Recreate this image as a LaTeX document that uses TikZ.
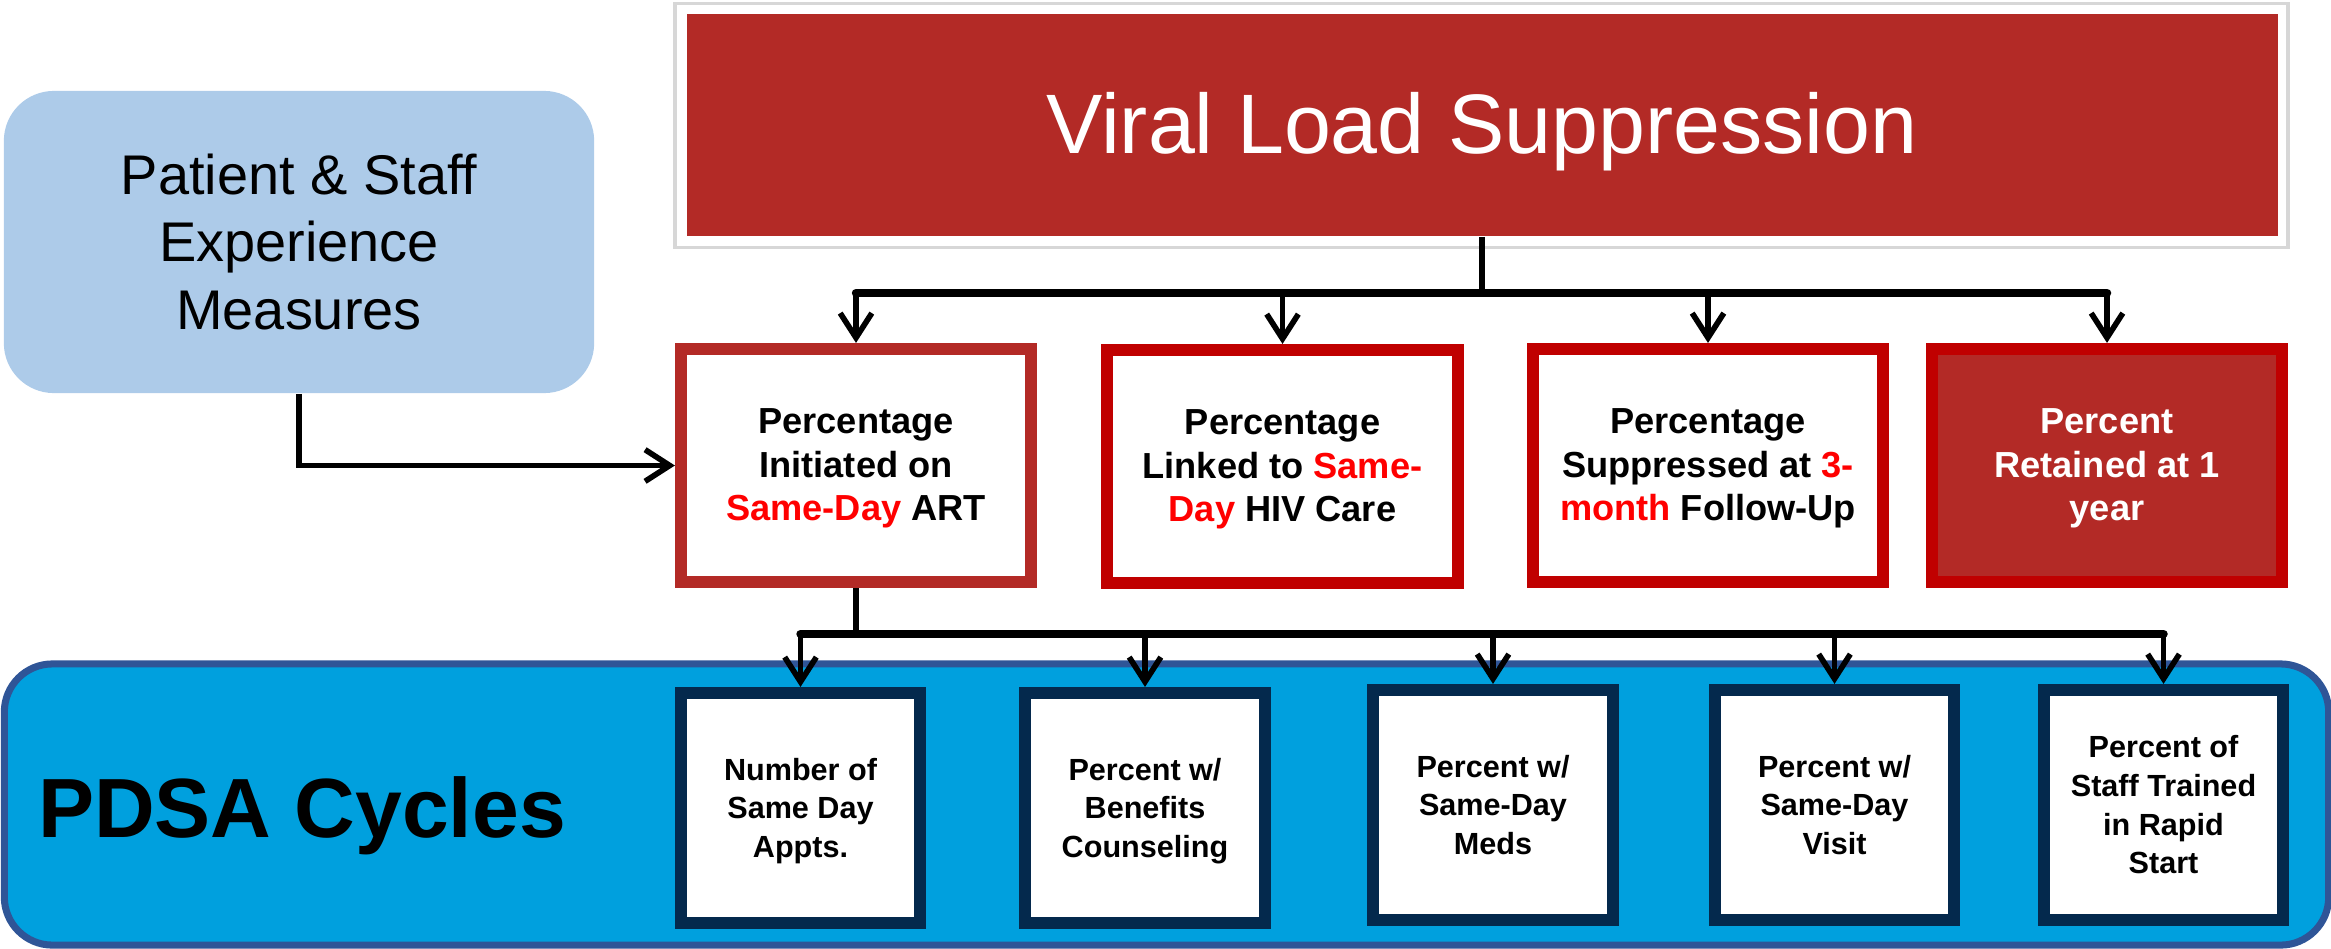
\documentclass[tikz,border=0pt]{standalone}
\usepackage{fontspec}
\setmainfont{Liberation Sans}
\usetikzlibrary{arrows.meta}

\definecolor{vlred}{RGB}{179,42,38}
\definecolor{boxred}{RGB}{192,0,0}
\definecolor{navy}{RGB}{4,41,77}
\definecolor{pdsablue}{RGB}{0,160,222}
\definecolor{pdsaedge}{RGB}{47,85,151}
\definecolor{paleblue}{RGB}{173,203,233}
\definecolor{hot}{RGB}{255,0,0}
\definecolor{framegray}{RGB}{215,215,215}

% fixed first-line height and last-line depth keep the lines of every box at the same place
\newcommand{\linehi}[1]{\rule{0pt}{#1}}
\newcommand{\linelo}[1]{\rule[-#1]{0pt}{#1}}
\newcommand{\mhi}{\linehi{9.1pt}}
\newcommand{\mlo}{\linelo{2.56pt}}
\newcommand{\cyhi}{\linehi{8.1pt}}
\newcommand{\cylo}{\linelo{2pt}}

\tikzset{
  measurebox/.style={draw=boxred, line width=0.12cm, fill=white,
    minimum width=3.50cm, minimum height=2.33cm, align=center, inner sep=0pt,
    font=\bfseries\fontsize{10.3}{12.5}\selectfont},
  pdsabox/.style={draw=navy, line width=0.12cm, fill=white,
    minimum width=2.39cm, minimum height=2.30cm, align=center, inner sep=0pt,
    font=\bfseries\fontsize{8.7}{11}\selectfont},
  shaft/.style={line width=1.6pt, black},
  bar/.style={line width=2.4pt, black, line cap=round},
  feed/.style={shaft, -{Straight Barb[length=7pt,width=9pt]}},
}

\begin{document}
\begin{tikzpicture}[x=0.01cm,y=-0.01cm]
\useasboundingbox (0,0) rectangle (2331,948);

% outcome measure
\node[draw=framegray, line width=1pt, fill=white, minimum width=16.12cm,
      minimum height=2.44cm, inner sep=0pt] (vlframe) at (1481.5,125.5) {};
\node[fill=vlred, text=white, minimum width=15.90cm, minimum height=2.22cm,
      font=\fontsize{24}{28}\selectfont, text height=17.0pt, text depth=0.6pt]
      (vl) at (1482,125) {Viral Load Suppression};

% balancing measure
\node[fill=paleblue, rounded corners=0.5cm, minimum width=5.90cm,
      minimum height=3.02cm, align=center, inner sep=0pt,
      font=\fontsize{15.9}{19.3}\selectfont]
      (pse) at (299,242) {\linehi{14.7pt}Patient \& Staff\\Experience\\Measures\linelo{3.4pt}};

% process measures
\node[measurebox, draw=vlred] (m1) at (856,465.5)
  {\mhi Percentage\\Initiated on\\\textcolor{hot}{Same-Day} ART\mlo};
\node[measurebox] (m2) at (1282.5,466.5)
  {\mhi Percentage\\Linked to \textcolor{hot}{Same-}\\\textcolor{hot}{Day} HIV Care\mlo};
\node[measurebox] (m3) at (1708,465.5)
  {\mhi Percentage\\Suppressed at \textcolor{hot}{3-}\\\textcolor{hot}{month} Follow-Up\mlo};
\node[measurebox, fill=vlred, text=white] (m4) at (2107,465.5)
  {\mhi Percent\\Retained at 1\\year\mlo};

% PDSA band
\node[fill=pdsablue, draw=pdsaedge, line width=2pt, rounded corners=0.48cm,
      minimum width=23.23cm, minimum height=2.81cm, inner sep=0pt]
      (band) at (1166.5,804.5) {};
\node[font=\bfseries\fontsize{23.9}{28}\selectfont, text height=17.1pt,
      text depth=0pt, inner sep=0pt] (bandlabel) at (302,807) {PDSA Cycles};

\node[pdsabox] (c1) at (800.5,808) {\cyhi Number of\\Same Day\\Appts.\cylo};
\node[pdsabox] (c2) at (1145,808) {\cyhi Percent w/\\Benefits\\Counseling\cylo};
\node[pdsabox] (c3) at (1493,805) {\cyhi Percent w/\\Same-Day\\Meds\cylo};
\node[pdsabox] (c4) at (1834.5,805) {\cyhi Percent w/\\Same-Day\\Visit\cylo};
\node[pdsabox] (c5) at (2163.5,805) {\cyhi Percent of\\Staff Trained\\in Rapid\\Start\cylo};

% outcome to process measures
\coordinate (topbar) at (0,293);
\draw[shaft] (vl.south) -- (vl.south |- topbar);
\draw[bar] (m1.north |- topbar) -- (m4.north |- topbar);
\foreach \m in {m1,m2,m3,m4}
  \draw[feed] (\m.north |- topbar) -- (\m.north);

% same-day ART to PDSA cycles
\coordinate (lowbar) at (0,634);
\draw[shaft] (m1.south) -- (m1.south |- lowbar);
\draw[bar] (c1.north |- lowbar) -- (c5.north |- lowbar);
\foreach \c in {c1,c2,c3,c4,c5}
  \draw[feed] (\c.north |- lowbar) -- (\c.north);

% experience measures feed same-day ART
\draw[feed] (pse.south) |- (m1.west);
\end{tikzpicture}
\end{document}
